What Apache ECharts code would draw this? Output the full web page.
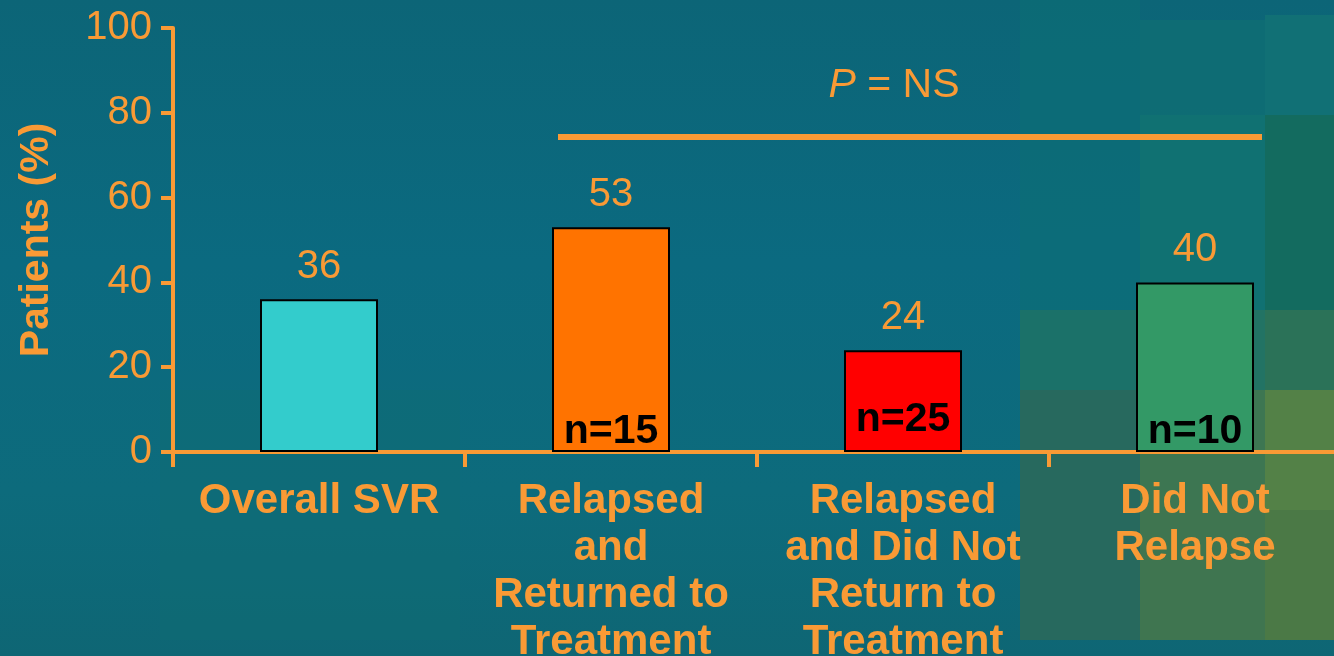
<!DOCTYPE html>
<html>
<head>
<meta charset="utf-8">
<script src="https://cdn.jsdelivr.net/npm/echarts@6/dist/echarts.min.js"></script>
<style>
  html, body { margin: 0; padding: 0; width: 1334px; height: 656px; overflow: hidden; }
  body { position: relative; background: linear-gradient(180deg, #0c6577 0%, #0b6a80 40%, #0d6b7c 75%, #0e6674 100%); }
  .tile { position: absolute; }
  #chart { position: absolute; left: 0; top: 0; width: 1334px; height: 656px; }
</style>
</head>
<body>
<div class="tile" style="left:160px;top:390px;width:300px;height:250px;background:#0f6d74;opacity:.45"></div>
<div class="tile" style="left:1020px;top:0;width:120px;height:310px;background:#0e6e74;opacity:.6"></div>
<div class="tile" style="left:1020px;top:310px;width:120px;height:80px;background:#1b7169"></div>
<div class="tile" style="left:1020px;top:390px;width:120px;height:250px;background:#27695e"></div>
<div class="tile" style="left:1140px;top:20px;width:125px;height:95px;background:#0f6e73;opacity:.8"></div>
<div class="tile" style="left:1140px;top:115px;width:125px;height:195px;background:#107172"></div>
<div class="tile" style="left:1140px;top:310px;width:125px;height:80px;background:#227364"></div>
<div class="tile" style="left:1140px;top:390px;width:125px;height:120px;background:#3d7652"></div>
<div class="tile" style="left:1140px;top:510px;width:125px;height:130px;background:#3f7550"></div>
<div class="tile" style="left:1265px;top:15px;width:69px;height:100px;background:#117075"></div>
<div class="tile" style="left:1265px;top:115px;width:69px;height:195px;background:#136b5f"></div>
<div class="tile" style="left:1265px;top:310px;width:69px;height:80px;background:#2b7258"></div>
<div class="tile" style="left:1265px;top:390px;width:69px;height:120px;background:#538147"></div>
<div class="tile" style="left:1265px;top:510px;width:69px;height:130px;background:#4b7946"></div>
<div id="chart"></div>
<script>
// ---- data ----
const categories = [
  'Overall SVR',
  'Relapsed\nand\nReturned to\nTreatment',
  'Relapsed\nand Did Not\nReturn to\nTreatment',
  'Did Not\nRelapse'
];
const values = [36, 53, 24, 40];
const nLabels = ['', 'n=15', 'n=25', 'n=10'];
const barColors = ['#33cccc', '#ff7300', '#ff0000', '#339966'];
const yTicks = [0, 20, 40, 60, 80, 100];
const pValueText = 'P = NS';

// ---- styles ----
const ORANGE = '#f99a35';
const FONT = '"Liberation Sans", Arial, Helvetica, sans-serif';

const chart = echarts.init(document.getElementById('chart'), null, { renderer: 'canvas' });

const barData = values.map((v, i) => ({
  value: v,
  itemStyle: { color: barColors[i] }
}));
const nData = values.map((v, i) => {
  const d = { value: v, label: { formatter: nLabels[i] } };
  if (i === 2) d.label.distance = 12;
  return d;
});

const option = {
  backgroundColor: 'transparent',
  animation: false,
  grid: { left: 173, top: 28, width: 1168, height: 424, containLabel: false, outerBoundsMode: 'none' },
  xAxis: {
    type: 'category',
    data: categories,
    boundaryGap: true,
    axisLine: { show: true, lineStyle: { color: ORANGE, width: 4 } },
    axisTick: { show: true, length: 15, lineStyle: { color: ORANGE, width: 4 }, alignWithLabel: false },
    axisLabel: {
      color: ORANGE, fontFamily: FONT, fontWeight: 'bold', fontSize: 42,
      lineHeight: 47, margin: 26, interval: 0
    },
    splitLine: { show: false }
  },
  yAxis: {
    type: 'value',
    min: yTicks[0],
    max: yTicks[yTicks.length - 1],
    interval: yTicks[1] - yTicks[0],
    name: 'Patients (%)',
    nameLocation: 'middle',
    nameGap: 116,
    nameRotate: 90,
    nameTextStyle: { color: ORANGE, fontFamily: FONT, fontWeight: 'bold', fontSize: 41 },
    axisLine: { show: true, lineStyle: { color: ORANGE, width: 4 } },
    axisTick: { show: true, length: 12, lineStyle: { color: ORANGE, width: 4 } },
    axisLabel: { color: ORANGE, fontFamily: FONT, fontSize: 40, margin: 21 },
    splitLine: { show: false }
  },
  series: [
    {
      type: 'bar',
      data: barData,
      barWidth: 118,
      itemStyle: { borderColor: '#000', borderWidth: 2 },
      label: {
        show: true, position: 'top', distance: 12,
        color: ORANGE, fontFamily: FONT, fontSize: 40
      },
      z: 2
    },
    {
      type: 'bar',
      data: nData,
      barWidth: 118,
      barGap: '-100%',
      itemStyle: { color: 'transparent', borderWidth: 0 },
      label: {
        show: true, position: 'insideBottom', distance: 0,
        color: '#000', fontFamily: FONT, fontWeight: 'bold', fontSize: 41
      },
      silent: true,
      z: 3
    }
  ]
};
chart.setOption(option);

// significance bracket line and P-value text (annotation), placed via data->pixel conversion
const yLine = 74.3;
const x1 = chart.convertToPixel({ xAxisIndex: 0 }, 1) - 53;
const x2 = chart.convertToPixel({ xAxisIndex: 0 }, 3) + 67;
const yPx = chart.convertToPixel({ yAxisIndex: 0 }, yLine);
const yText = chart.convertToPixel({ yAxisIndex: 0 }, 86.5);
chart.setOption({
  graphic: [
    {
      type: 'line',
      shape: { x1: x1, y1: yPx, x2: x2, y2: yPx },
      style: { stroke: ORANGE, lineWidth: 6 },
      z: 10
    },
    {
      type: 'text',
      x: (x1 + x2) / 2 - 16,
      y: yText,
      style: {
        text: '{i|P} = NS',
        align: 'center',
        verticalAlign: 'middle',
        fill: ORANGE,
        font: '41px ' + FONT,
        rich: {
          i: { fontStyle: 'italic', fontSize: 41, fontFamily: FONT, fill: ORANGE, color: ORANGE }
        }
      },
      z: 10
    }
  ]
});
</script>
</body>
</html>
